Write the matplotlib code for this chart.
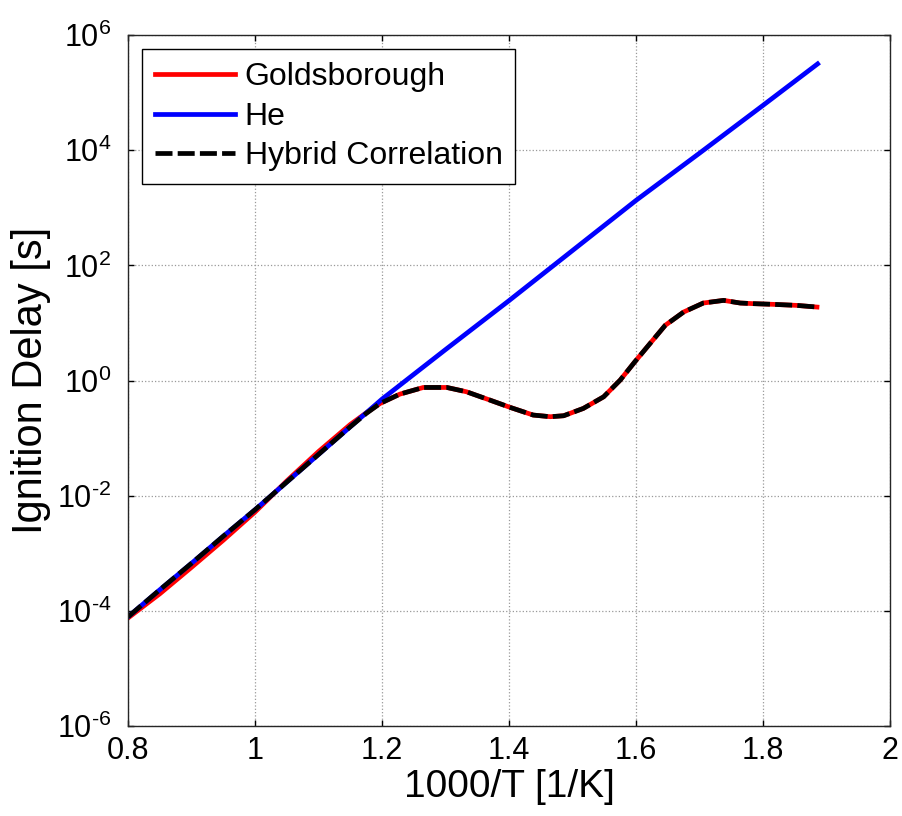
import numpy as np
import matplotlib
matplotlib.use('Agg')
import matplotlib.pyplot as plt

plt.rcParams['font.family'] = ['Liberation Sans', 'DejaVu Sans']
plt.rcParams['mathtext.fontset'] = 'custom'
plt.rcParams['mathtext.rm'] = 'Liberation Sans'
plt.rcParams['mathtext.it'] = 'Liberation Sans:italic'

# 1000/T [1/K] and log10 of ignition delay [s]
he_x = [0.80, 0.85, 0.90, 0.95, 1.00, 1.05, 1.10, 1.15, 1.20, 1.30, 1.40,
        1.50, 1.60, 1.70, 1.80, 1.886]
he_log = [-4.10, -3.63, -3.17, -2.70, -2.24, -1.76, -1.28, -0.80, -0.32, 0.54,
          1.39, 2.26, 3.13, 3.95, 4.78, 5.50]

gold_x = [0.80, 0.85, 0.90, 0.95, 1.00, 1.05, 1.10, 1.15, 1.175, 1.197, 1.228,
          1.265, 1.302, 1.333, 1.367, 1.402, 1.438, 1.465, 1.486, 1.517, 1.549,
          1.575, 1.598, 1.622, 1.646, 1.675, 1.706, 1.738, 1.764, 1.785, 1.816,
          1.853, 1.885]
gold_log = [-4.12, -3.70, -3.24, -2.77, -2.28, -1.74, -1.23, -0.76, -0.56, -0.395,
            -0.234, -0.118, -0.118, -0.193, -0.326, -0.465, -0.597, -0.626, -0.609,
            -0.482, -0.280, 0.009, 0.326, 0.644, 0.961, 1.192, 1.348, 1.394, 1.348,
            1.337, 1.325, 1.307, 1.278]

hybrid_x = [0.80, 0.85, 0.90, 0.95, 1.00, 1.05, 1.10, 1.15, 1.175, 1.197, 1.228,
            1.265, 1.302, 1.333, 1.367, 1.402, 1.438, 1.465, 1.486, 1.517, 1.549,
            1.575, 1.598, 1.622, 1.646, 1.675, 1.706, 1.738, 1.764, 1.785, 1.816,
            1.853, 1.885]
hybrid_log = [-4.10, -3.63, -3.17, -2.70, -2.24, -1.76, -1.28, -0.80, -0.57, -0.395,
              -0.234, -0.118, -0.118, -0.193, -0.326, -0.465, -0.597, -0.626, -0.609,
              -0.482, -0.280, 0.009, 0.326, 0.644, 0.961, 1.192, 1.348, 1.394, 1.348,
              1.337, 1.325, 1.307, 1.278]

x_ticks = [0.8, 1.0, 1.2, 1.4, 1.6, 1.8, 2.0]
x_tick_labels = ['0.8', '1', '1.2', '1.4', '1.6', '1.8', '2']
y_exps = [-6, -4, -2, 0, 2, 4, 6]

fig = plt.figure(figsize=(9.02, 8.16), dpi=100)
ax = fig.add_axes([0.142, 0.110, 0.8447, 0.847])

ax.semilogy(gold_x, 10.0 ** np.array(gold_log), color='red', lw=3.4,
            label='Goldsborough')
ax.semilogy(he_x, 10.0 ** np.array(he_log), color='blue', lw=3.4, label='He')
ax.semilogy(hybrid_x, 10.0 ** np.array(hybrid_log), color='black', lw=3.4,
            dashes=(3.6, 1.1), label='Hybrid Correlation')

ax.set_xlim(0.8, 2.0)
ax.set_ylim(1e-6, 1e6)
ax.set_xticks(x_ticks)
ax.set_xticklabels(x_tick_labels)
ax.set_yticks([10.0 ** e for e in y_exps])
# hyphen-style minus like the original
ax.set_yticklabels([r'$\mathregular{10^{%s}}$' % str(e).replace('-', '\u2010')
                    for e in y_exps])
ax.yaxis.set_minor_locator(matplotlib.ticker.NullLocator())

ax.grid(True, color='0.6', linestyle=':', lw=0.9)
ax.tick_params(direction='in', length=4, width=1, top=True, right=True,
               labelsize=22)
ax.tick_params(axis='x', pad=7)
ax.tick_params(axis='y', pad=12)
for s in ax.spines.values():
    s.set_linewidth(1.0)
    s.set_color('0.15')

ax.set_xlabel('1000/T [1/K]', fontsize=28, labelpad=2)
ax.set_ylabel('Ignition Delay [s]', fontsize=30, labelpad=4)

leg = ax.legend(loc='upper left', fontsize=23, frameon=True, fancybox=False,
                edgecolor='black', framealpha=1, handlelength=2.5,
                handletextpad=0.3, labelspacing=0.3, borderaxespad=0.45,
                borderpad=0.4)
leg.get_frame().set_linewidth(1.0)

fig.savefig('out.png', dpi=100)
